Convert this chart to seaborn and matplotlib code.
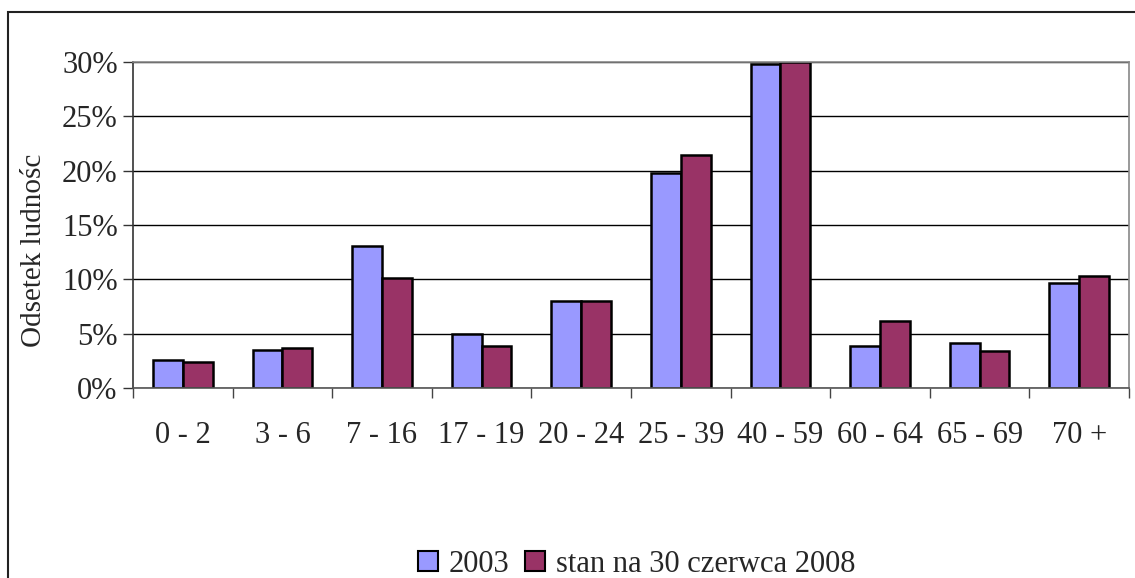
import matplotlib
matplotlib.use("Agg")
import matplotlib.pyplot as plt
import matplotlib.patches as mpatches
import seaborn as sns
import pandas as pd
import numpy as np
from matplotlib.ticker import FuncFormatter, FixedLocator

categories = ["0 - 2", "3 - 6", "7 - 16", "17 - 19", "20 - 24", "25 - 39",
              "40 - 59", "60 - 64", "65 - 69", "70 +"]
series_names = ["2003", "stan na 30 czerwca 2008"]
values_2003 = [2.6, 3.5, 13.1, 5.0, 8.0, 19.8, 29.8, 3.9, 4.1, 9.7]
values_2008 = [2.4, 3.7, 10.1, 3.9, 8.0, 21.4, 30.0, 6.2, 3.4, 10.3]
yticks = [0, 5, 10, 15, 20, 25, 30]
ylabel = "Odsetek ludnośc"
colors = ["#9999FF", "#993366"]

df = pd.DataFrame({
    "age": categories * 2,
    "value": values_2003 + values_2008,
    "series": [series_names[0]] * len(categories) + [series_names[1]] * len(categories),
})

sns.set_theme(style="white")
plt.rcParams["font.family"] = ["Liberation Serif", "DejaVu Serif"]

fig = plt.figure(figsize=(11.35, 5.78), dpi=100)
ax = fig.add_axes([133 / 1135, 1 - 388 / 578, (1129 - 133) / 1135, (388 - 62) / 578])

sns.barplot(data=df, x="age", y="value", hue="series", palette=colors,
            saturation=1, width=0.6, edgecolor="black", linewidth=1.8,
            ax=ax, legend=True)

ax.set_ylim(0, 30)
ax.set_xlim(-0.5, len(categories) - 0.5)
ax.yaxis.set_major_locator(FixedLocator(yticks))
ax.yaxis.set_major_formatter(FuncFormatter(lambda v, p: f"{v:.0f}%"))
ax.grid(axis="y", color="black", linewidth=1.0)
ax.set_axisbelow(True)

for s in ["top", "right"]:
    ax.spines[s].set_color("#888888")
    ax.spines[s].set_linewidth(1.2)
ax.spines["left"].set_color("#333333")
ax.spines["left"].set_linewidth(1.2)
ax.spines["bottom"].set_color("#555555")
ax.spines["bottom"].set_linewidth(1.2)

ax.tick_params(axis="y", which="major", direction="out", length=7, width=1,
               color="#333333", labelsize=22, pad=4, left=True)
ax.tick_params(axis="x", which="major", length=0, labelsize=22, pad=24)
ax.set_xticks(np.arange(-0.5, len(categories), 1.0), minor=True)
ax.tick_params(axis="x", which="minor", direction="out", length=7, width=1,
               color="#444444", bottom=True)
ax.set_xlabel("")
ax.set_ylabel(ylabel, fontsize=21)
ax.yaxis.set_label_coords(-0.086, 0.423)

leg = ax.get_legend()
if leg is not None:
    leg.remove()
handles = [mpatches.Patch(facecolor=c, edgecolor="black", linewidth=1.5) for c in colors]
fig.legend(handles, series_names, loc="center", bbox_to_anchor=(0.561, 0.024),
           ncol=2, frameon=False, fontsize=22, handlelength=0.65, handleheight=0.65,
           handletextpad=0.35, columnspacing=0.5, borderaxespad=0)

# outer chart frame (top and left visible)
frame = mpatches.Rectangle((8 / 1135, -0.05), 1.2, 1 - 12 / 578 + 0.05,
                           transform=fig.transFigure, fill=False,
                           edgecolor="#222222", linewidth=1.5)
fig.patches.append(frame)

fig.savefig("out.png", dpi=100)
